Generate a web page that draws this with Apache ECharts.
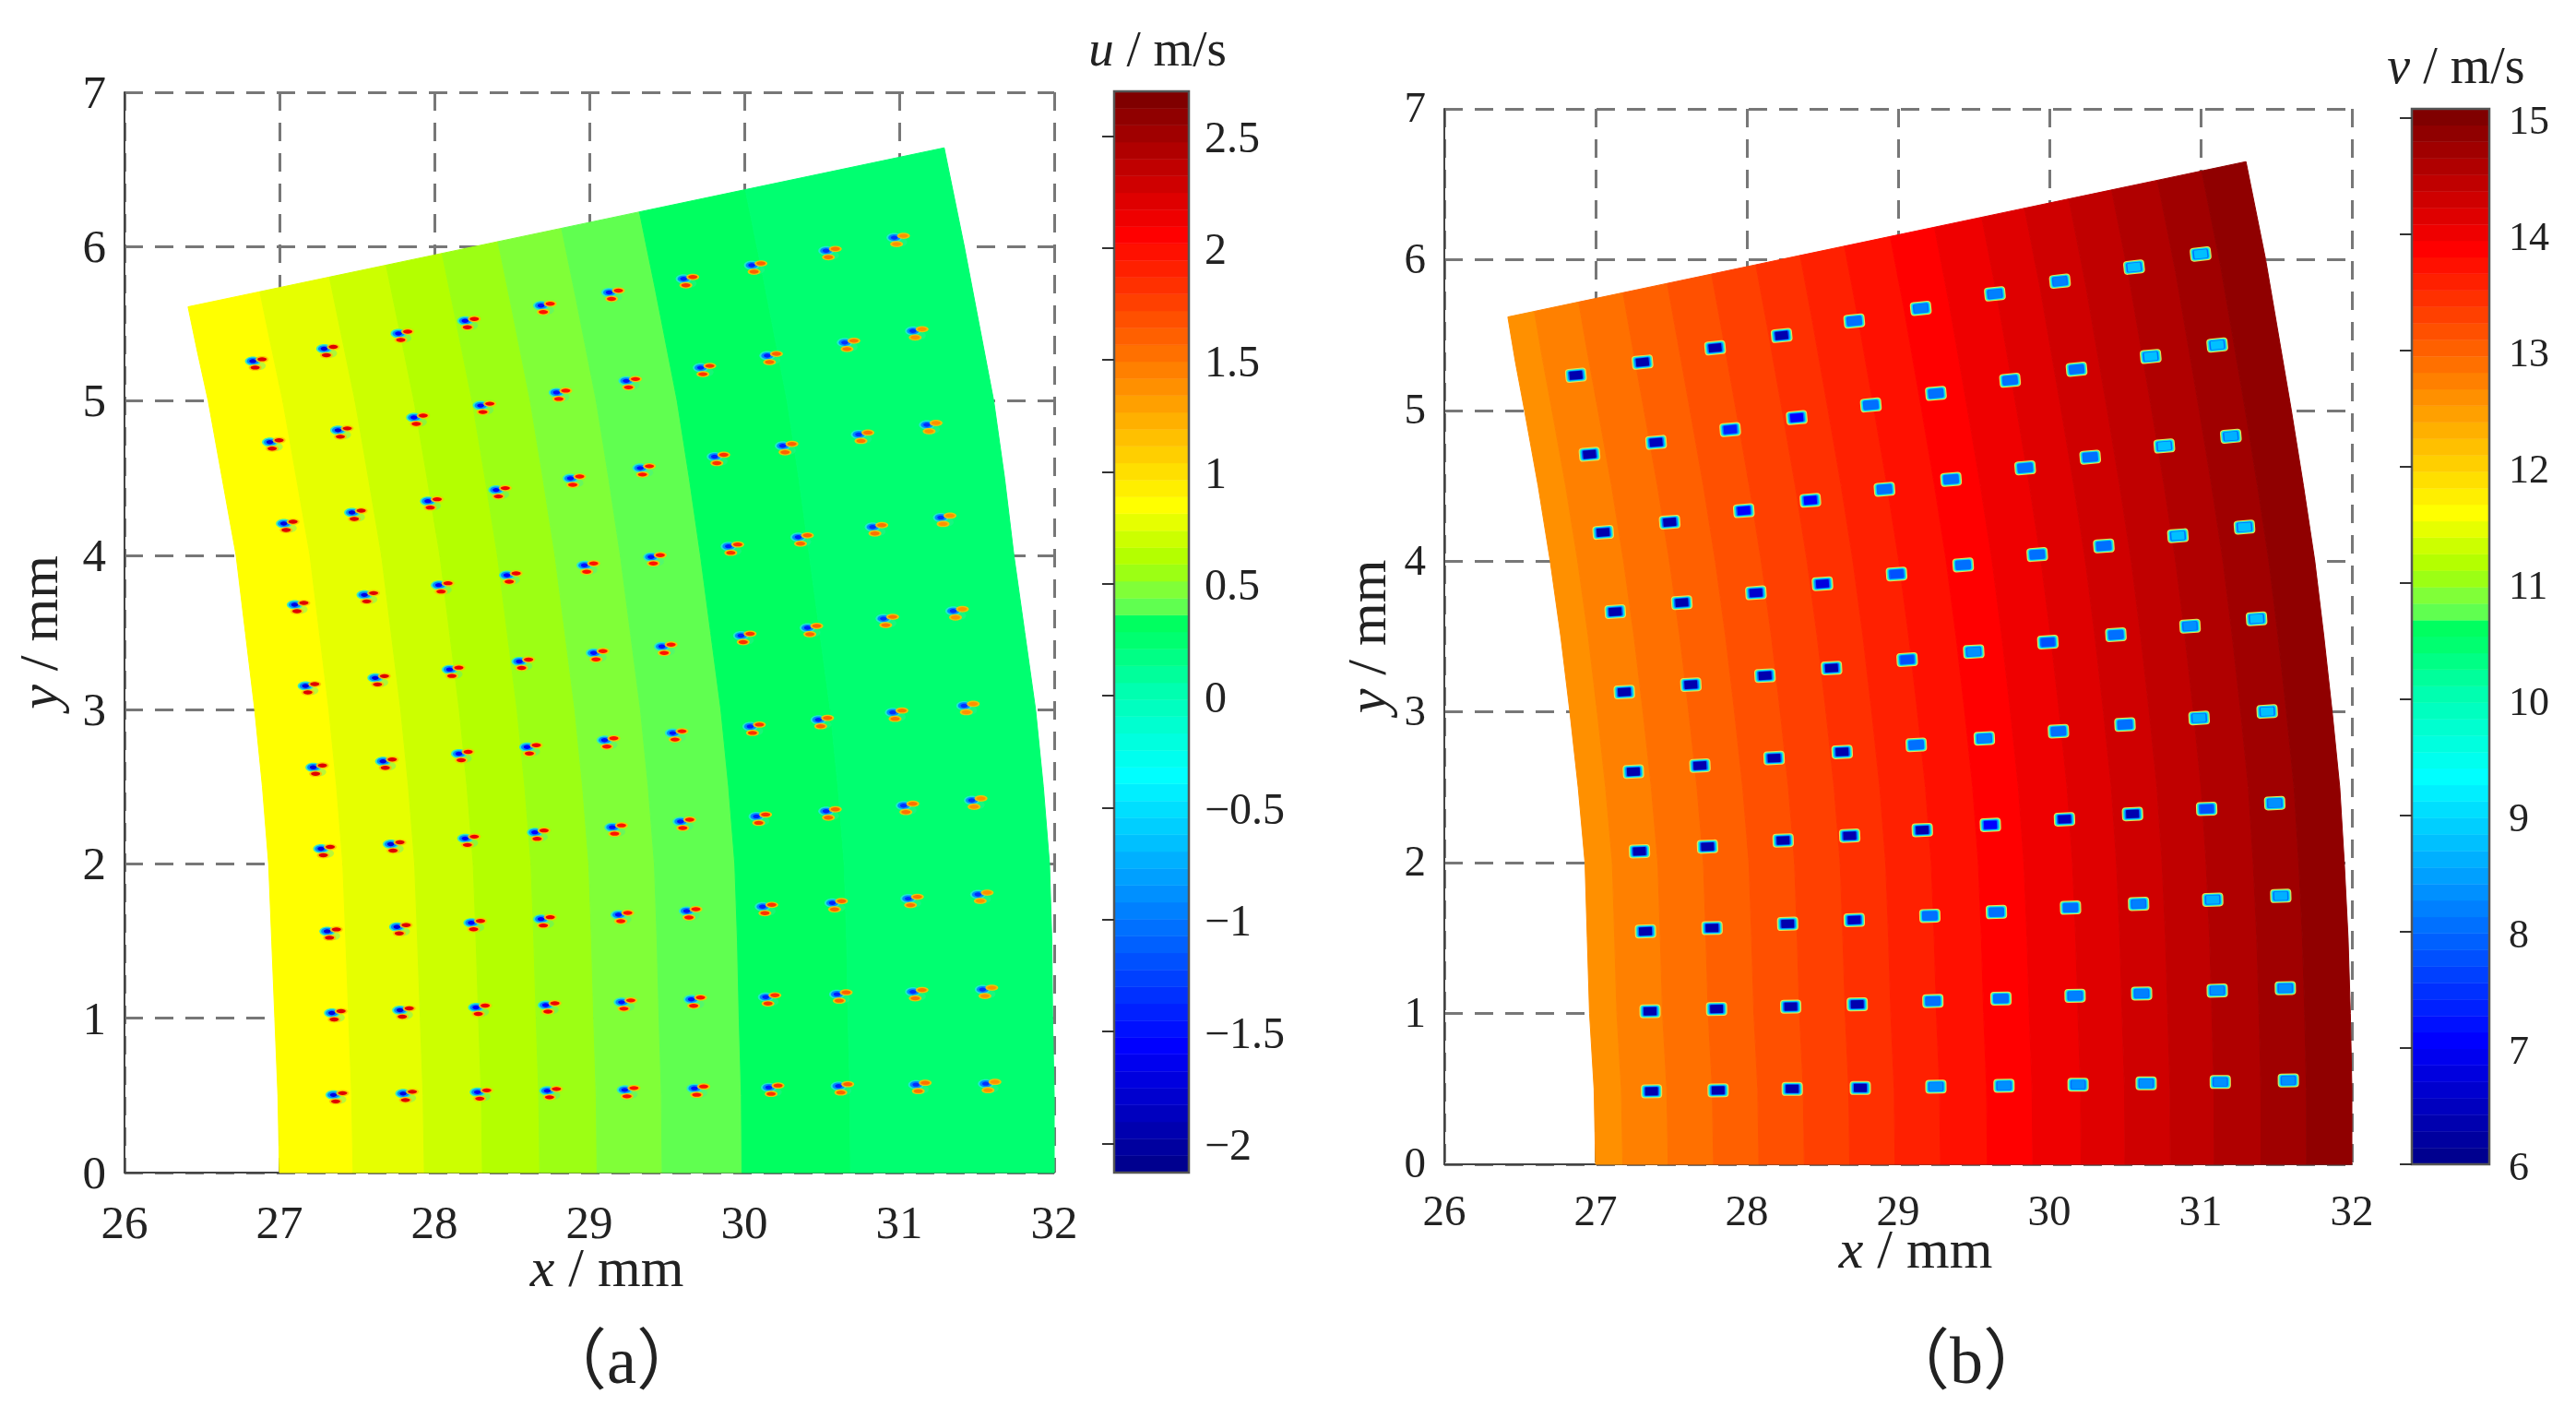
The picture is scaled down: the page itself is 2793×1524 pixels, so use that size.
<!DOCTYPE html>
<html>
<head>
<meta charset="utf-8">
<title>u and v velocity fields</title>
<script src="https://cdn.jsdelivr.net/npm/echarts@6/dist/echarts.min.js"></script>
<style>
  html, body { margin: 0; padding: 0; background: #fff; }
  #main { width: 2793px; height: 1524px; }
</style>
</head>
<body>
<div id="main"></div>
<script>
// ---- colour bars
var uBarRange = [-2.13, 2.70];
var vBarRange = [6, 15.08];
var uBarTicks = [-2, -1.5, -1, -0.5, 0, 0.5, 1, 1.5, 2, 2.5];
var vBarTicks = [6, 7, 8, 9, 10, 11, 12, 13, 14, 15];
// [level, colour] stops of the 64 level colour map, as seen on the bars
var colormapStops = [[0, '#00008f'], [7, '#0000ff'], [15, '#0080ff'], [23, '#00ffff'], [28, '#00ffb0'],
  [31, '#00ff70'], [32, '#00ff60'], [33, '#60ff50'], [34, '#80ff38'], [35, '#9cff14'], [36, '#b4ff00'],
  [37, '#ccff00'], [38, '#e6ff00'], [39, '#ffff00'], [47, '#ff8000'], [55, '#ff0000'], [63, '#800000']];

// ---- outline of the sector, bottom to top (mm)
var uLeftX = [27.00, 26.99, 26.97, 26.95, 26.93, 26.89, 26.84, 26.78, 26.72, 26.63, 26.54, 26.47, 26.41];
var uLeftY = [0, 0.5, 1, 1.5, 2, 2.5, 3, 3.5, 4, 4.5, 5, 5.32, 5.61];
var uRightX = [32.00, 32.00, 31.99, 31.985, 31.97, 31.93, 31.88, 31.81, 31.74, 31.68, 31.61, 31.42, 31.29];
var uRightY = [0, 0.5, 1, 1.5, 2, 2.5, 3, 3.5, 4, 4.5, 5, 6, 6.64];
var vLeftX = [27.00, 26.99, 26.96, 26.945, 26.93, 26.885, 26.83, 26.77, 26.70, 26.62, 26.53, 26.47, 26.42];
var vLeftY = [0, 0.5, 1, 1.5, 2, 2.5, 3, 3.5, 4, 4.5, 5, 5.32, 5.62];
var vRightX = [32.00, 32.00, 31.99, 31.975, 31.95, 31.92, 31.87, 31.815, 31.755, 31.68, 31.60, 31.43, 31.30];
var vRightY = [0, 0.5, 1, 1.5, 2, 2.5, 3, 3.5, 4, 4.5, 5, 6, 6.65];

// ---- contour bands: value of each band, and where the bands meet across the sector (0 = left edge, 1 = right edge)
var uBandValues = [0.85, 0.77, 0.70, 0.62, 0.55, 0.47, 0.40, 0.32, 0.25];
var uBandEdges = [0.095, 0.187, 0.262, 0.336, 0.41, 0.494, 0.597, 0.737];
var vBandValues = [12.60, 12.74, 12.88, 13.02, 13.16, 13.31, 13.45, 13.59, 13.73, 13.87, 14.01, 14.16, 14.30, 14.44, 14.58, 14.72, 14.87];
var vBandEdges = [0.036, 0.096, 0.156, 0.216, 0.276, 0.336, 0.396, 0.456, 0.518, 0.578, 0.642, 0.70, 0.76, 0.818, 0.88, 0.94];

// ---- u panel: positions of the small vortices, row by row from the bottom
var uPointX = [
  [27.36, 27.81, 28.29, 28.74, 29.24, 29.69, 30.17, 30.62, 31.12, 31.57],
  [27.35, 27.79, 28.28, 28.73, 29.22, 29.67, 30.15, 30.61, 31.10, 31.55],
  [27.32, 27.77, 28.25, 28.70, 29.20, 29.64, 30.13, 30.58, 31.07, 31.52],
  [27.28, 27.73, 28.21, 28.66, 29.16, 29.60, 30.09, 30.54, 31.04, 31.48],
  [27.23, 27.68, 28.17, 28.61, 29.11, 29.55, 30.05, 30.49, 30.97, 31.43],
  [27.18, 27.63, 28.11, 28.56, 29.04, 29.48, 29.99, 30.42, 30.91, 31.36],
  [27.11, 27.56, 28.04, 28.48, 28.98, 29.41, 29.91, 30.36, 30.84, 31.28],
  [27.04, 27.48, 27.97, 28.41, 28.89, 29.34, 29.82, 30.26, 30.75, 31.19],
  [26.95, 27.39, 27.88, 28.31, 28.80, 29.25, 29.73, 30.16, 30.66, 31.10],
  [26.84, 27.30, 27.78, 28.21, 28.70, 29.14, 29.62, 30.06, 30.54, 30.98]
];
var uPointY = [
  [0.485, 0.494, 0.503, 0.512, 0.518, 0.528, 0.534, 0.543, 0.552, 0.558],
  [1.016, 1.034, 1.052, 1.067, 1.086, 1.104, 1.119, 1.138, 1.153, 1.168],
  [1.546, 1.574, 1.601, 1.625, 1.653, 1.677, 1.705, 1.729, 1.757, 1.784],
  [2.080, 2.110, 2.147, 2.187, 2.220, 2.257, 2.290, 2.324, 2.360, 2.394],
  [2.608, 2.647, 2.696, 2.739, 2.784, 2.830, 2.873, 2.916, 2.964, 3.007],
  [3.135, 3.187, 3.242, 3.294, 3.349, 3.391, 3.461, 3.512, 3.571, 3.621],
  [3.661, 3.725, 3.789, 3.853, 3.917, 3.971, 4.040, 4.099, 4.165, 4.227],
  [4.187, 4.259, 4.333, 4.405, 4.480, 4.547, 4.621, 4.691, 4.765, 4.827],
  [4.715, 4.792, 4.875, 4.952, 5.037, 5.112, 5.197, 5.275, 5.360, 5.435],
  [5.240, 5.320, 5.419, 5.501, 5.600, 5.685, 5.773, 5.861, 5.955, 6.040]
];
// lowest and highest u inside a vortex, by column
var uCoreByColumn = [-1.7, -1.7, -1.6, -1.6, -1.5, -1.5, -1.4, -1.4, -1.3, -1.3];
var uPeakByColumn = [2.2, 2.2, 2.1, 2.1, 2.0, 2.0, 1.8, 1.6, 1.5, 1.4];

// ---- v panel: positions of the small vortices, row by row from the bottom
var vPointX = [
  [27.37, 27.81, 28.30, 28.75, 29.25, 29.70, 30.19, 30.64, 31.13, 31.58],
  [27.36, 27.80, 28.29, 28.73, 29.23, 29.68, 30.17, 30.61, 31.11, 31.56],
  [27.33, 27.77, 28.27, 28.71, 29.21, 29.65, 30.14, 30.59, 31.08, 31.53],
  [27.29, 27.74, 28.24, 28.68, 29.16, 29.61, 30.10, 30.55, 31.04, 31.49],
  [27.25, 27.69, 28.18, 28.63, 29.12, 29.57, 30.06, 30.50, 30.99, 31.44],
  [27.19, 27.63, 28.12, 28.56, 29.06, 29.50, 29.99, 30.44, 30.93, 31.37],
  [27.13, 27.57, 28.06, 28.50, 28.99, 29.43, 29.92, 30.36, 30.85, 31.29],
  [27.05, 27.49, 27.98, 28.42, 28.91, 29.35, 29.84, 30.27, 30.76, 31.20],
  [26.96, 27.40, 27.89, 28.33, 28.82, 29.25, 29.74, 30.18, 30.67, 31.11],
  [26.87, 27.31, 27.79, 28.23, 28.71, 29.15, 29.64, 30.07, 30.56, 31.00]
];
var vPointY = [
  [0.484, 0.490, 0.500, 0.506, 0.515, 0.521, 0.528, 0.537, 0.546, 0.556],
  [1.015, 1.030, 1.046, 1.061, 1.083, 1.099, 1.118, 1.133, 1.152, 1.168],
  [1.545, 1.567, 1.595, 1.620, 1.648, 1.673, 1.702, 1.727, 1.755, 1.780],
  [2.076, 2.107, 2.148, 2.179, 2.217, 2.251, 2.288, 2.323, 2.357, 2.395],
  [2.604, 2.644, 2.694, 2.735, 2.782, 2.825, 2.872, 2.916, 2.960, 3.003],
  [3.132, 3.181, 3.241, 3.291, 3.347, 3.400, 3.463, 3.512, 3.569, 3.618],
  [3.665, 3.725, 3.790, 3.850, 3.915, 3.975, 4.044, 4.101, 4.169, 4.226],
  [4.191, 4.259, 4.335, 4.404, 4.477, 4.543, 4.619, 4.690, 4.764, 4.829],
  [4.709, 4.788, 4.873, 4.952, 5.036, 5.113, 5.200, 5.273, 5.358, 5.434],
  [5.233, 5.320, 5.415, 5.497, 5.593, 5.677, 5.773, 5.857, 5.950, 6.037]
];
// lowest v at the middle of each vortex
var vCore = [
  [6.3, 6.3, 6.3, 6.3, 8.3, 8.3, 8.3, 8.3, 8.4, 8.4],
  [6.3, 6.3, 6.3, 6.4, 8.0, 8.0, 8.2, 8.2, 8.4, 8.4],
  [6.3, 6.3, 6.4, 6.5, 8.0, 8.0, 8.0, 8.2, 8.6, 8.6],
  [6.3, 6.3, 6.3, 6.3, 6.4, 7.0, 6.5, 6.4, 7.8, 8.4],
  [6.3, 6.3, 6.3, 6.3, 8.0, 8.2, 8.0, 8.0, 8.6, 8.8],
  [6.3, 6.3, 6.3, 6.4, 7.8, 8.4, 7.8, 8.0, 8.4, 8.8],
  [6.3, 6.3, 6.6, 6.8, 7.8, 8.0, 8.0, 8.0, 8.8, 8.8],
  [6.3, 6.4, 7.0, 7.0, 8.0, 8.0, 8.0, 8.0, 8.8, 8.6],
  [6.4, 6.5, 7.4, 7.0, 8.0, 8.0, 8.0, 8.0, 8.8, 8.8],
  [6.3, 6.3, 6.3, 6.3, 8.0, 8.2, 8.2, 8.2, 8.8, 8.8]
];

var serif = '"Liberation Serif", "Noto Sans CJK SC", serif';
var inkColor = '#222';

// expand the stops to one colour per level
var levelColors = [];
colormapStops.forEach(function (stop, i) {
  levelColors[stop[0]] = echarts.color.parse(stop[1]);
  if (i === 0) return;
  var prev = colormapStops[i - 1];
  var a = echarts.color.parse(prev[1]), b = echarts.color.parse(stop[1]);
  for (var l = prev[0] + 1; l < stop[0]; l++) {
    var t = (l - prev[0]) / (stop[0] - prev[0]);
    levelColors[l] = [a[0] + (b[0] - a[0]) * t, a[1] + (b[1] - a[1]) * t, a[2] + (b[2] - a[2]) * t, 1];
  }
});
function levelCss(l) {
  var c = levelColors[Math.max(0, Math.min(63, l))];
  return 'rgb(' + Math.round(c[0]) + ',' + Math.round(c[1]) + ',' + Math.round(c[2]) + ')';
}
function valueColor(v, range) {
  return levelCss(Math.floor((v - range[0]) / (range[1] - range[0]) * 64));
}

// ---- series builders
function sectorSeries(idx, values, edges, range, lx, ly, rx, ry) {
  var data = values.map(function (v, i) {
    return [v, i === 0 ? 0 : edges[i - 1], i === values.length - 1 ? 1 : edges[i]];
  });
  return {
    type: 'custom', xAxisIndex: idx, yAxisIndex: idx, clip: false, silent: true, z: 2,
    data: data,
    encode: { x: [], y: [] },
    renderItem: function (params, api) {
      var f0 = api.value(1), f1 = api.value(2), pts = [], k;
      for (k = 0; k < lx.length; k++) {
        pts.push(api.coord([lx[k] + (rx[k] - lx[k]) * f0, ly[k] + (ry[k] - ly[k]) * f0]));
      }
      for (k = lx.length - 1; k >= 0; k--) {
        pts.push(api.coord([lx[k] + (rx[k] - lx[k]) * f1, ly[k] + (ry[k] - ly[k]) * f1]));
      }
      var col = valueColor(api.value(0), range);
      return { type: 'polygon', shape: { points: pts }, style: { fill: col, stroke: col, lineWidth: 1 } };
    }
  };
}

function flatten(xs, ys, extra) {
  var out = [];
  xs.forEach(function (row, r) {
    row.forEach(function (x, c) { out.push([x, ys[r][c]].concat(extra(r, c))); });
  });
  return out;
}

function blob(cx, cy, rx, ry, fill, opacity) {
  return { type: 'ellipse', shape: { cx: cx, cy: cy, rx: rx, ry: ry }, style: { fill: fill, opacity: opacity === undefined ? 1 : opacity } };
}

function uVortexSeries() {
  return {
    type: 'custom', xAxisIndex: 0, yAxisIndex: 0, silent: true, z: 3,
    data: flatten(uPointX, uPointY, function (r, c) { return [uCoreByColumn[c], uPeakByColumn[c]]; }),
    encode: { x: 0, y: 1 },
    renderItem: function (params, api) {
      var p = api.coord([api.value(0), api.value(1)]);
      var core = valueColor(api.value(2), uBarRange), peak = valueColor(api.value(3), uBarRange);
      return {
        type: 'group', x: p[0], y: p[1],
        children: [
          blob(5, 2, 7, 4.5, '#40e8a0', 0.35),
          blob(-2, -3, 8.5, 5, '#20e8d8', 0.9),
          blob(-2, -3, 6.5, 3.6, '#0088ff'),
          blob(-2, -3, 3.8, 2.2, core),
          blob(8, -5, 7, 3.4, '#ffc000', 0.9),
          blob(8, -5, 5, 2.2, peak),
          blob(0.5, 4, 7, 3.4, '#ffc000', 0.9),
          blob(0.5, 4, 5, 2.2, peak)
        ]
      };
    }
  };
}

function box(w, h, r, fill) {
  return { type: 'rect', shape: { x: -w / 2, y: -h / 2, width: w, height: h, r: r }, style: { fill: fill } };
}

function vVortexSeries() {
  return {
    type: 'custom', xAxisIndex: 1, yAxisIndex: 1, silent: true, z: 3,
    data: flatten(vPointX, vPointY, function (r, c) { return [vCore[r][c]]; }),
    encode: { x: 0, y: 1 },
    renderItem: function (params, api) {
      var p = api.coord([api.value(0), api.value(1)]);
      return {
        type: 'group', x: p[0], y: p[1], rotation: api.value(1) * 0.018,
        children: [
          box(23, 15, 4, '#f0e050'),
          box(21, 13, 3, '#40f0b0'),
          box(19, 12, 3, '#00d8ff'),
          box(17, 10.5, 2, '#0070ff'),
          box(14, 9, 1, valueColor(api.value(2), vBarRange))
        ]
      };
    }
  };
}

function barSeries(idx, range) {
  var step = (range[1] - range[0]) / 64;
  var data = levelColors.map(function (c, l) { return [range[0] + l * step, range[0] + (l + 1) * step, l]; });
  return {
    type: 'custom', xAxisIndex: idx, yAxisIndex: idx, silent: true, clip: false, z: 2,
    data: data,
    encode: { x: [], y: [0, 1] },
    renderItem: function (params, api) {
      var a = api.coord([0, api.value(0)]), b = api.coord([1, api.value(1)]);
      var col = levelCss(api.value(2));
      return {
        type: 'rect',
        shape: { x: a[0], y: b[1], width: b[0] - a[0], height: a[1] - b[1] },
        style: { fill: col, stroke: col, lineWidth: 0.5 }
      };
    }
  };
}

function barFrameSeries(idx) {
  return {
    type: 'custom', xAxisIndex: idx, yAxisIndex: idx, silent: true, clip: false, z: 3,
    data: [[0]],
    encode: { x: [], y: [] },
    renderItem: function (params) {
      var cs = params.coordSys;
      return {
        type: 'rect',
        shape: { x: cs.x, y: cs.y, width: cs.width, height: cs.height },
        style: { fill: 'none', stroke: '#555', lineWidth: 2.5 }
      };
    }
  };
}

// ---- axes
function plotX(gridIndex, fontSize, margin, nameGap) {
  return {
    gridIndex: gridIndex, type: 'value', min: 26, max: 32, interval: 1,
    name: '{i|x} / mm', nameLocation: 'middle', nameGap: nameGap, nameMoveOverlap: false,
    nameTextStyle: {
      fontFamily: serif, fontSize: 60, color: inkColor, padding: [0, 0, 0, 38],
      rich: { i: { fontFamily: serif, fontSize: 60, fontStyle: 'italic', color: inkColor } }
    },
    axisLine: { show: true, onZero: false, lineStyle: { color: '#444', width: 2 } },
    axisTick: { show: false },
    axisLabel: { fontFamily: serif, fontSize: fontSize, color: inkColor, margin: margin },
    splitLine: { show: true, lineStyle: { color: '#777', width: 3, type: [20, 13] } }
  };
}
// labelDrop: the labels sit a little under their tick, lineHeight with top align does that
function plotY(gridIndex, fontSize, margin, nameGap, labelDrop) {
  return {
    gridIndex: gridIndex, type: 'value', min: 0, max: 7, interval: 1,
    name: '{i|y} / mm', nameLocation: 'middle', nameGap: nameGap, nameMoveOverlap: false,
    nameTextStyle: {
      fontFamily: serif, fontSize: 60, color: inkColor,
      rich: { i: { fontFamily: serif, fontSize: 60, fontStyle: 'italic', color: inkColor } }
    },
    axisLine: { show: true, onZero: false, lineStyle: { color: '#444', width: 2 } },
    axisTick: { show: false },
    axisLabel: {
      fontFamily: serif, fontSize: fontSize, color: inkColor, margin: margin,
      verticalAlign: 'top', lineHeight: labelDrop * 2
    },
    splitLine: { show: true, lineStyle: { color: '#777', width: 3, type: [20, 13] } }
  };
}
function barX(gridIndex) {
  return { gridIndex: gridIndex, type: 'value', min: 0, max: 1, show: false };
}
function barY(gridIndex, range, ticks, fontSize, margin) {
  return {
    gridIndex: gridIndex, type: 'value', position: 'right', min: range[0], max: range[1], z: 10,
    axisLine: { show: false },
    axisTick: { show: true, inside: true, length: 13, customValues: ticks, lineStyle: { color: '#333', width: 2 } },
    axisLabel: {
      fontFamily: serif, fontSize: fontSize, color: inkColor, margin: margin, customValues: ticks,
      verticalAlign: 'top', lineHeight: 10,
      formatter: function (v) { return String(v).replace('-', '\u2212'); }
    },
    splitLine: { show: false }
  };
}
function headText(text, left, top, fontSize) {
  return {
    text: text, left: left, top: top, textAlign: 'center',
    textStyle: {
      fontFamily: serif, fontSize: fontSize, fontWeight: 'normal', color: inkColor,
      rich: { i: { fontFamily: serif, fontSize: fontSize, fontStyle: 'italic', color: inkColor } }
    }
  };
}

var chart = echarts.init(document.getElementById('main'));
chart.setOption({
  backgroundColor: '#fff',
  animation: false,
  title: [
    headText('{i|u} / m/s', 1250, 24, 55),
    headText('{i|v} / m/s', 2658, 42, 56),
    headText('\uff08a\uff09', 669, 1439, 72),
    headText('\uff08b\uff09', 2127, 1439, 72)
  ],
  grid: [
    { left: 135, top: 100, width: 1008, height: 1171 },
    { left: 1566, top: 118, width: 984, height: 1144 },
    { left: 1208, top: 99, width: 81, height: 1172 },
    { left: 2615, top: 118, width: 84, height: 1144 }
  ],
  xAxis: [plotX(0, 51, 32, 77), plotX(1, 47, 30, 66), barX(2), barX(3)],
  yAxis: [
    plotY(0, 51, 20, 59, 3.5),
    plotY(1, 47, 20, 50, 2),
    barY(2, uBarRange, uBarTicks, 48, 17),
    barY(3, vBarRange, vBarTicks, 44, 21)
  ],
  series: [
    sectorSeries(0, uBandValues, uBandEdges, uBarRange, uLeftX, uLeftY, uRightX, uRightY),
    sectorSeries(1, vBandValues, vBandEdges, vBarRange, vLeftX, vLeftY, vRightX, vRightY),
    uVortexSeries(),
    vVortexSeries(),
    barSeries(2, uBarRange),
    barSeries(3, vBarRange),
    barFrameSeries(2),
    barFrameSeries(3)
  ]
});
</script>
</body>
</html>
